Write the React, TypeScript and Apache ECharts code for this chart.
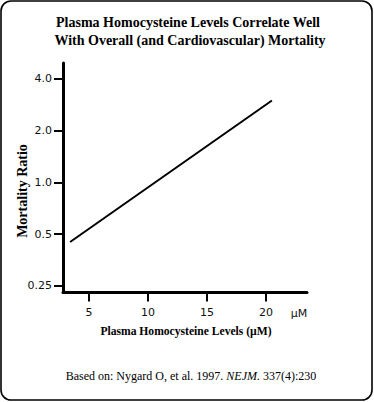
import React, { useEffect, useRef } from "react";
import * as echarts from "echarts";

const titleLines = [
  "Plasma Homocysteine Levels Correlate Well",
  "With Overall (and Cardiovascular) Mortality",
];
const xTicks = [5, 10, 15, 20];
const yTicks = [0.25, 0.5, 1, 2, 4];
const yTickLabels = ["0.25", "0.5", "1.0", "2.0", "4.0"];
const lineX = [3.4, 20.5];
const lineY = [0.45, 3.0];
const xName = "Plasma Homocysteine Levels (µM)";
const yName = "Mortality Ratio";
const unitLabel = "µM";

export default function App() {
  const ref = useRef<HTMLDivElement>(null);
  useEffect(() => {
    if (!ref.current) return;
    const chart = echarts.init(ref.current, null, { renderer: "svg" });
    const serif = "'Liberation Serif', 'DejaVu Serif', serif";
    const sans = "'DejaVu Sans', 'Liberation Sans', sans-serif";
    chart.setOption({
      animation: false,
      backgroundColor: "#ffffff",
      grid: { left: 63, right: 67, top: 63, bottom: 109.5 },
      xAxis: {
        type: "value",
        min: 2.8,
        max: 23.47,
        axisLine: { show: true, lineStyle: { color: "#000", width: 3 } },
        axisTick: {
          show: true,
          length: 9,
          lineStyle: { color: "#000", width: 2 },
          customValues: xTicks,
        },
        axisLabel: {
          customValues: xTicks,
          margin: 14,
          color: "#111",
          fontFamily: sans,
          fontSize: 11,
        },
        splitLine: { show: false },
      },
      yAxis: {
        type: "log",
        logBase: 2,
        min: 0.2288,
        max: 4.955,
        axisLine: { show: true, lineStyle: { color: "#000", width: 3 } },
        axisTick: {
          show: true,
          length: 9,
          lineStyle: { color: "#000", width: 2 },
          customValues: yTicks,
        },
        axisLabel: {
          customValues: yTicks,
          margin: 11,
          color: "#111",
          fontFamily: sans,
          fontSize: 11,
          formatter: (v: number) => {
            const i = yTicks.findIndex((t) => Math.abs(t - v) < 1e-6);
            return i >= 0 ? yTickLabels[i] : "";
          },
        },
        splitLine: { show: false },
      },
      series: [
        {
          type: "line",
          data: lineX.map((x, i) => [x, lineY[i]]),
          symbol: "none",
          lineStyle: { color: "#000", width: 2 },
        },
      ],
      graphic: [
        {
          type: "rect",
          shape: { x: 1, y: 1, width: 371, height: 399, r: 10 },
          style: { fill: "none", stroke: "#000", lineWidth: 1.6 },
          z: 100,
        },
        {
          type: "text",
          x: 188,
          y: 22,
          style: {
            text: titleLines[0],
            font: `bold 14px ${serif}`,
            fill: "#000",
            textAlign: "center",
            textVerticalAlign: "middle",
          },
        },
        {
          type: "text",
          x: 190,
          y: 40,
          style: {
            text: titleLines[1],
            font: `bold 14px ${serif}`,
            fill: "#000",
            textAlign: "center",
            textVerticalAlign: "middle",
          },
        },
        {
          type: "text",
          x: 22,
          y: 191,
          rotation: Math.PI / 2,
          style: {
            text: yName,
            font: `bold 14px ${serif}`,
            fill: "#000",
            textAlign: "center",
            textVerticalAlign: "middle",
          },
        },
        {
          type: "text",
          x: 186,
          y: 331,
          style: {
            text: xName,
            font: `bold 11.6px ${serif}`,
            fill: "#000",
            textAlign: "center",
            textVerticalAlign: "middle",
          },
        },
        {
          type: "text",
          x: 299,
          y: 313,
          style: {
            text: unitLabel,
            font: `11px ${sans}`,
            fill: "#111",
            textAlign: "center",
            textVerticalAlign: "middle",
          },
        },
        {
          type: "text",
          x: 191,
          y: 376,
          style: {
            text: "{n|Based on: Nygard O, et al. 1997. }{i|NEJM.}{n| 337(4):230}",
            rich: {
              n: { font: `12px ${serif}`, fill: "#000" },
              i: { font: `italic 12px ${serif}`, fill: "#000" },
            },
            textAlign: "center",
            textVerticalAlign: "middle",
          },
        },
      ],
    });
    return () => chart.dispose();
  }, []);
  return (
    <div
      ref={ref}
      style={{ position: "fixed", left: 0, top: 0, width: 374, height: 402 }}
    />
  );
}
